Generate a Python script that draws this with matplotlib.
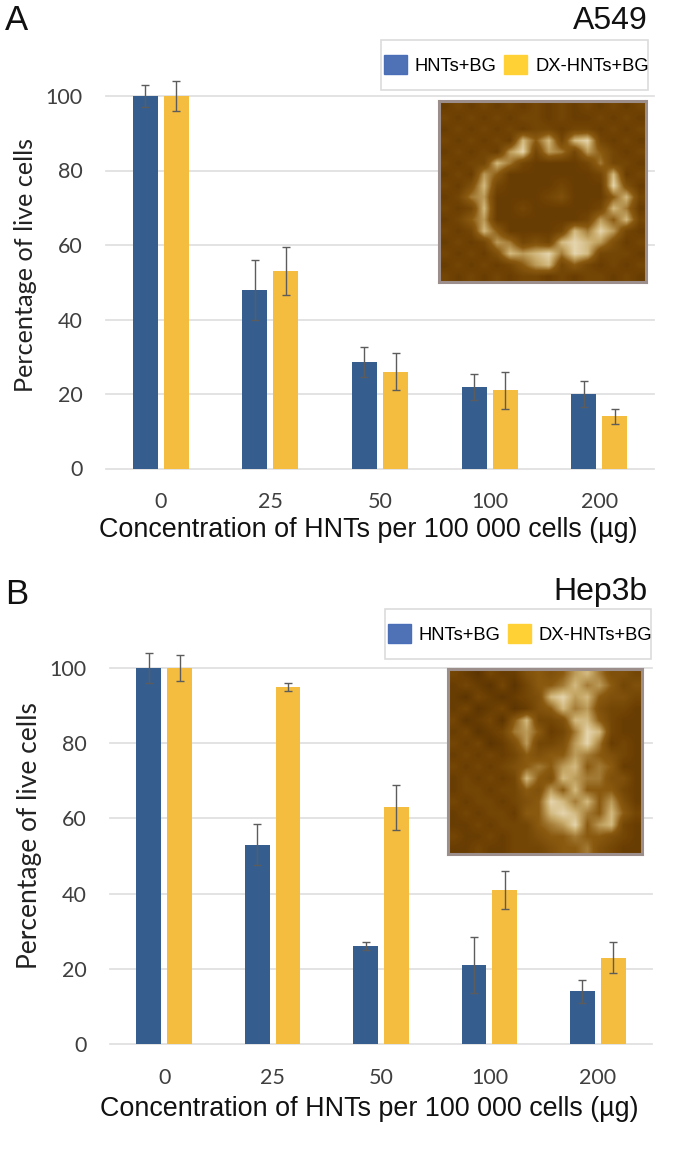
import matplotlib
matplotlib.use("Agg")
import matplotlib.pyplot as plt
import numpy as np
from matplotlib.colors import LinearSegmentedColormap
from matplotlib.patches import Patch, Rectangle

W, H = 700, 1152

concentrations = ["0", "25", "50", "100", "200"]
series_names = ["HNTs+BG", "DX-HNTs+BG"]

a549_hnts = [100, 48, 28.5, 22, 20]
a549_dx = [100, 53, 26, 21, 14]
a549_hnts_err = [3, 8, 4, 3.5, 3.5]
a549_dx_err = [4, 6.5, 5, 5, 2]

hep3b_hnts = [100, 53, 26, 21, 14]
hep3b_dx = [100, 95, 63, 41, 23]
hep3b_hnts_err = [4, 5.5, 1, 7.5, 3]
hep3b_dx_err = [3.5, 1, 6, 5, 4]

# rough brightness of the AFM insets on a coarse grid
a549_afm = [
    [2, 3, 2, 3, 2, 3, 2, 3, 2, 3, 2, 3, 2, 3, 2, 3],
    [3, 2, 3, 2, 3, 2, 3, 3, 2, 3, 2, 2, 3, 2, 3, 2],
    [2, 3, 2, 3, 2, 3, 2, 3, 3, 2, 3, 3, 2, 3, 2, 3],
    [3, 2, 3, 2, 3, 2, 8, 5, 8, 3, 8, 9, 3, 2, 3, 2],
    [2, 3, 2, 3, 2, 7, 9, 3, 7, 6, 3, 7, 5, 3, 2, 3],
    [3, 2, 3, 3, 8, 6, 3, 2, 2, 2, 2, 3, 6, 3, 3, 2],
    [2, 3, 2, 7, 5, 2, 2, 2, 2, 2, 2, 2, 3, 8, 2, 3],
    [3, 2, 4, 8, 3, 2, 2, 2, 2, 3, 2, 2, 2, 9, 4, 2],
    [2, 3, 6, 7, 2, 2, 2, 2, 3, 4, 2, 2, 2, 5, 8, 3],
    [3, 2, 3, 8, 2, 2, 3, 2, 2, 2, 2, 2, 3, 8, 6, 2],
    [2, 3, 5, 7, 2, 2, 2, 2, 2, 2, 2, 3, 7, 5, 8, 3],
    [3, 2, 3, 8, 5, 2, 2, 2, 2, 3, 8, 6, 9, 7, 3, 2],
    [2, 3, 2, 3, 7, 6, 3, 4, 3, 8, 9, 8, 7, 4, 2, 3],
    [3, 2, 3, 2, 4, 8, 7, 8, 9, 6, 9, 8, 3, 3, 3, 2],
    [2, 3, 2, 3, 2, 3, 5, 7, 8, 3, 5, 3, 2, 3, 2, 3],
    [3, 2, 3, 2, 3, 2, 3, 3, 2, 3, 2, 3, 3, 2, 3, 2],
]
hep3b_afm = [
    [3, 2, 1, 3, 2, 2, 4, 5, 4, 5, 7, 8, 6, 4, 4, 3],
    [2, 3, 2, 1, 3, 1, 3, 5, 5, 6, 8, 6, 7, 5, 3, 4],
    [2, 1, 3, 2, 1, 2, 3, 4, 8, 9, 7, 8, 5, 4, 4, 3],
    [2, 3, 1, 2, 3, 1, 2, 4, 5, 8, 6, 7, 4, 3, 3, 2],
    [3, 1, 2, 3, 1, 5, 8, 3, 3, 4, 8, 8, 5, 3, 2, 2],
    [2, 3, 1, 2, 3, 6, 7, 5, 2, 3, 6, 9, 8, 3, 2, 2],
    [3, 2, 3, 1, 2, 4, 7, 3, 3, 4, 7, 9, 6, 2, 3, 2],
    [2, 3, 2, 3, 2, 3, 5, 4, 5, 5, 7, 6, 5, 4, 3, 2],
    [3, 2, 3, 2, 3, 4, 5, 6, 5, 7, 8, 5, 6, 5, 2, 2],
    [2, 3, 2, 3, 2, 3, 8, 5, 4, 8, 7, 6, 6, 4, 4, 2],
    [2, 3, 3, 2, 3, 3, 5, 4, 7, 5, 8, 5, 5, 5, 3, 2],
    [3, 2, 3, 3, 2, 3, 4, 5, 9, 8, 6, 8, 5, 7, 4, 2],
    [2, 3, 2, 3, 3, 2, 5, 5, 8, 9, 8, 6, 5, 8, 5, 3],
    [2, 2, 3, 2, 3, 3, 3, 5, 6, 7, 9, 5, 7, 8, 3, 2],
    [3, 2, 2, 3, 2, 3, 3, 4, 5, 5, 6, 5, 5, 4, 3, 2],
    [2, 2, 3, 2, 2, 3, 3, 3, 4, 5, 5, 6, 4, 3, 2, 2],
]

blue = "#355e8f"
yellow = "#f4bd3f"
legend_blue = "#4f71b5"
legend_yellow = "#ffd135"
grid_col = "#e1e1e1"
tick_col = "#3f3f3f"
afm_cmap = LinearSegmentedColormap.from_list(
    "afm", ["#4f2c00", "#6f4204", "#8a5a10", "#c9ac6c", "#f8f0d8"])


def px_axes(fig, x0, y0, x1, y1):
    # pixel box, y counted from the top of the picture
    return fig.add_axes([x0 / W, 1 - y1 / H, (x1 - x0) / W, (y1 - y0) / H])


def draw_panel(fig, box, hnts, dx, hnts_err, dx_err, title, letter, title_y, letter_y,
               legend_box, inset_box, afm, ylabel_pos, ylabel_size, xlabel_y, xlabel_x):
    ax = px_axes(fig, *box)
    x = np.arange(len(concentrations))
    width = 0.228
    off = 0.142
    err_kw = dict(ecolor="#5c5c5c", elinewidth=1.0, capsize=3.2, capthick=1.0, clip_on=False, zorder=4)
    ax.bar(x - off, hnts, width, color=blue, yerr=hnts_err, error_kw=err_kw, zorder=3)
    ax.bar(x + off, dx, width, color=yellow, yerr=dx_err, error_kw=err_kw, zorder=3)

    ax.set_xlim(-0.5, 4.5)
    ax.set_ylim(0, 100)
    ax.set_yticks([0, 20, 40, 60, 80, 100])
    ax.set_xticks(x)
    ax.set_xticklabels(concentrations)
    ax.grid(axis="y", color=grid_col, linewidth=1.3, zorder=0)
    ax.set_axisbelow(True)
    for s in ax.spines.values():
        s.set_visible(False)
    ax.tick_params(length=0, labelsize=15.5, labelcolor=tick_col)
    ax.tick_params(axis="x", pad=17)
    ax.tick_params(axis="y", pad=17)
    for t in ax.get_xticklabels() + ax.get_yticklabels():
        t.set_family("Lato")
    # top gridline sits on the axes edge, keep it whole
    for g in ax.get_ygridlines():
        g.set_clip_on(False)

    fig.text(ylabel_pos[0] / W, 1 - ylabel_pos[1] / H, "Percentage of live cells",
             rotation=90, ha="center", va="center", fontsize=ylabel_size, family="Lato", color="#222222")
    fig.text(xlabel_x / W, 1 - xlabel_y / H, "Concentration of HNTs per 100 000 cells (µg)",
             ha="center", va="center", fontsize=19.4, family="Liberation Sans", color="#111111")
    fig.text(648 / W, 1 - title_y / H, title, ha="right", va="center", fontsize=23,
             family="Liberation Sans", color="#111111")
    fig.text(5 / W, 1 - letter_y / H, letter, ha="left", va="center", fontsize=25,
             family="Liberation Sans", color="#111111")

    lx0, ly0, lx1, ly1 = legend_box
    fig.add_artist(Rectangle((lx0 / W, 1 - ly1 / H), (lx1 - lx0) / W, (ly1 - ly0) / H,
                             transform=fig.transFigure, facecolor="white", edgecolor="#dcdcdc",
                             linewidth=1.2, zorder=5))
    handles = [Patch(facecolor=legend_blue, edgecolor="#4a6fb8", label=series_names[0]),
               Patch(facecolor=legend_yellow, edgecolor="#ffd135", label=series_names[1])]
    leg = fig.legend(handles=handles, loc="center",
                     bbox_to_anchor=((lx0 + lx1) / 2 / W + 2 / W, 1 - (ly0 + ly1) / 2 / H),
                     ncol=2, frameon=False, handlelength=1.25, handleheight=1.25,
                     handletextpad=0.42, columnspacing=0.42, borderpad=0,
                     borderaxespad=0, prop={"family": "Liberation Sans", "size": 13.2})
    leg.set_zorder(6)

    ins = px_axes(fig, *inset_box)
    ins.imshow(afm, cmap=afm_cmap, vmin=0, vmax=10, interpolation="bilinear", aspect="auto")
    ins.set_xticks([])
    ins.set_yticks([])
    ins.set_zorder(5)
    for s in ins.spines.values():
        s.set_color("#9c8f8b")
        s.set_linewidth(2.2)


fig = plt.figure(figsize=(W / 100, H / 100), dpi=100, facecolor="white")

draw_panel(fig, (106, 96, 654, 468.5), a549_hnts, a549_dx, a549_hnts_err, a549_dx_err,
           "A549", "A", 21, 21, (381, 40, 648, 90), (439, 101, 646, 282), a549_afm,
           (26, 264.5), 18.2, 530, 368)
draw_panel(fig, (110, 668, 652, 1044), hep3b_hnts, hep3b_dx, hep3b_hnts_err, hep3b_dx_err,
           "Hep3b", "B", 592, 595, (385, 609, 651, 659), (448, 669, 642, 854), hep3b_afm,
           (30, 836), 19, 1109, 369)

fig.savefig("out.png", dpi=100, facecolor="white")
